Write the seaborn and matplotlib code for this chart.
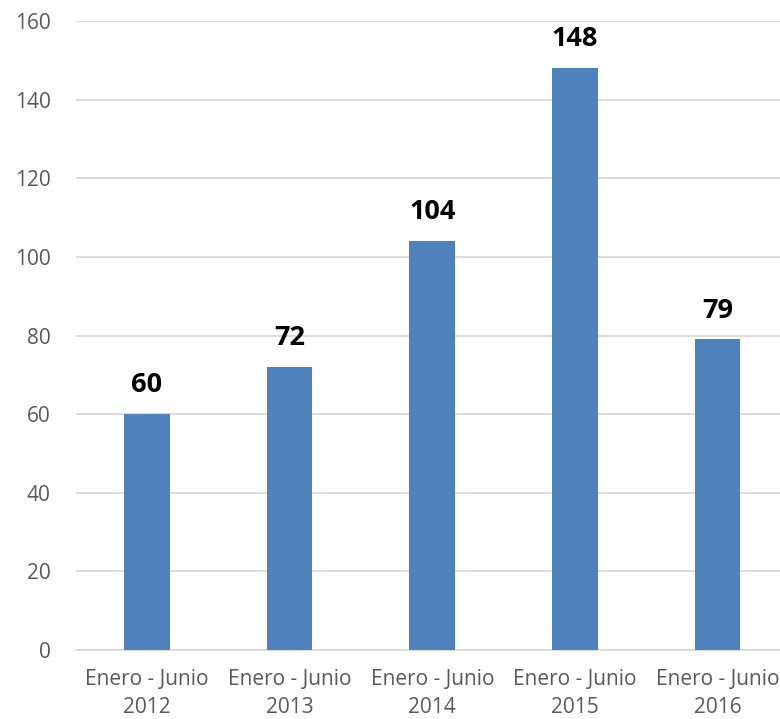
import matplotlib
matplotlib.use("Agg")
import matplotlib.pyplot as plt
import seaborn as sns
import pandas as pd

categorias = ["Enero - Junio\n2012", "Enero - Junio\n2013", "Enero - Junio\n2014",
              "Enero - Junio\n2015", "Enero - Junio\n2016"]
valores = [60, 72, 104, 148, 79]

df = pd.DataFrame({"periodo": categorias, "valor": valores})

sns.set_style("white")
plt.rcParams["font.family"] = ["Open Sans", "DejaVu Sans"]

fig = plt.figure(figsize=(7.8, 7.19), dpi=100)
ax = fig.add_axes([75.6 / 780, 1 - 650 / 719, 713.4 / 780, 629 / 719])

sns.barplot(data=df, x="periodo", y="valor", color="#4F81BD", saturation=1,
            width=0.32, linewidth=0, ax=ax, zorder=3)

ax.set_ylim(0, 160)
ax.set_yticks(range(0, 161, 20))
ax.yaxis.grid(True, color="#D9D9D9", linewidth=1.3, zorder=0)
ax.set_axisbelow(True)
for s in ["top", "right", "left"]:
    ax.spines[s].set_visible(False)
ax.spines["bottom"].set_color("#D9D9D9")
ax.spines["bottom"].set_linewidth(1.3)
ax.tick_params(axis="both", length=0, labelsize=15, labelcolor="#595959")
ax.tick_params(axis="y", pad=18)
ax.tick_params(axis="x", pad=14)
for lbl in ax.get_xticklabels():
    lbl.set_linespacing(1.4)
ax.set_xlabel("")
ax.set_ylabel("")

for i, v in enumerate(valores):
    ax.text(i, v + 4, str(v), ha="center", va="bottom", fontsize=19.5,
            fontweight="bold", color="black")

fig.savefig("out.png", dpi=100)
